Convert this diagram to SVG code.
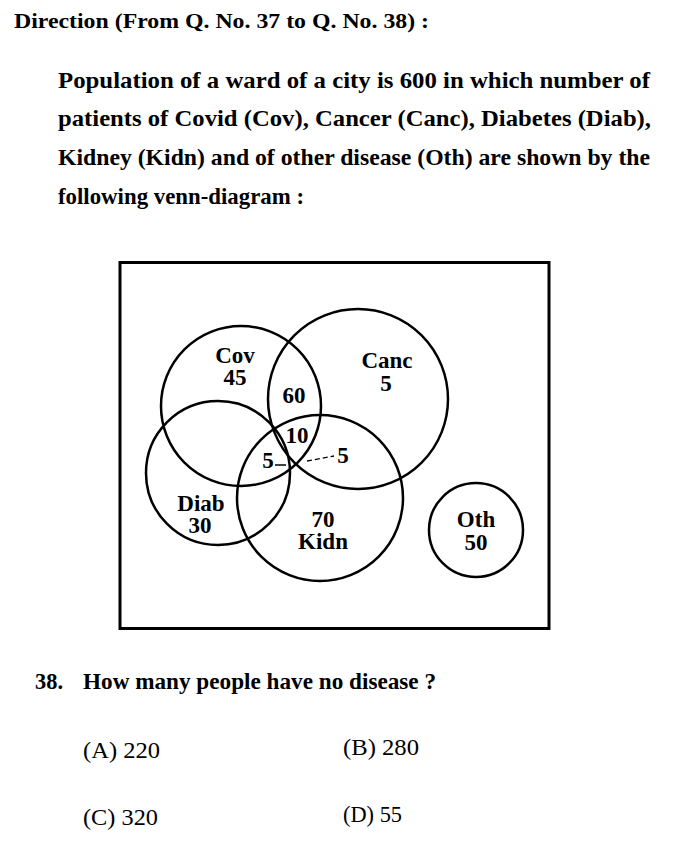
<svg xmlns="http://www.w3.org/2000/svg" width="682" height="844" viewBox="0 0 682 844">
<style>
  .t { font-family: "Liberation Serif", "Times New Roman", serif; fill: #000; }
  .b { font-weight: bold; }
  .lab { font-family: "Liberation Serif", "Times New Roman", serif; font-weight: bold; font-size: 23px; text-anchor: middle; fill: #000; }
  .c { fill: none; stroke: #000; stroke-width: 2.5; }
</style>
<rect width="682" height="844" fill="#fff"/>
<g id="header">
  <text class="t b" x="14" y="28" font-size="21" textLength="415" lengthAdjust="spacingAndGlyphs">Direction (From Q. No. 37 to Q. No. 38) :</text>
</g>
<g id="paragraph">
  <text class="t b" x="58" y="88" font-size="23" textLength="592" lengthAdjust="spacingAndGlyphs">Population of a ward of a city is 600 in which number of</text>
  <text class="t b" x="58" y="126" font-size="23" textLength="593" lengthAdjust="spacingAndGlyphs">patients of Covid (Cov), Cancer (Canc), Diabetes (Diab),</text>
  <text class="t b" x="58" y="165" font-size="23" textLength="592" lengthAdjust="spacingAndGlyphs">Kidney (Kidn) and of other disease (Oth) are shown by the</text>
  <text class="t b" x="58" y="204" font-size="23" textLength="246" lengthAdjust="spacingAndGlyphs">following venn-diagram :</text>
</g>
<g id="frame">
  <rect x="120" y="262.5" width="429" height="366" fill="none" stroke="#000" stroke-width="3"/>
</g>
<g id="cov">
  <circle class="c" cx="241" cy="406" r="80"/>
  <text class="lab" x="235" y="363">Cov</text>
  <text class="lab" x="235" y="385">45</text>
</g>
<g id="canc">
  <circle class="c" cx="358" cy="399" r="90"/>
  <text class="lab" x="387" y="368">Canc</text>
  <text class="lab" x="386" y="391">5</text>
</g>
<g id="diab">
  <circle class="c" cx="218" cy="473" r="72"/>
  <text class="lab" x="201" y="511">Diab</text>
  <text class="lab" x="200" y="533">30</text>
</g>
<g id="kidn">
  <circle class="c" cx="320" cy="498" r="83"/>
  <text class="lab" x="323" y="527">70</text>
  <text class="lab" x="323" y="549">Kidn</text>
</g>
<g id="oth">
  <circle class="c" cx="476" cy="530" r="47"/>
  <text class="lab" x="476" y="527">Oth</text>
  <text class="lab" x="476" y="550">50</text>
</g>
<g id="intersections">
  <text class="lab" x="294" y="403">60</text>
  <text class="lab" x="297" y="443">10</text>
  <text class="lab" x="268" y="468">5</text>
  <text class="lab" x="343" y="463">5</text>
</g>
<g id="connectors" stroke="#000" fill="none">
  <line x1="275" y1="465" x2="286" y2="465" stroke-width="1.5"/>
  <line x1="307" y1="461" x2="334" y2="456" stroke-width="1.3" stroke-dasharray="5 3"/>
</g>
<g id="question">
  <text class="t b" x="35" y="689" font-size="23" textLength="28" lengthAdjust="spacingAndGlyphs">38.</text>
  <text class="t b" x="83" y="689" font-size="23" textLength="353" lengthAdjust="spacingAndGlyphs">How many people have no disease ?</text>
</g>
<g id="options">
  <text class="t" x="83" y="758" font-size="24" textLength="77" lengthAdjust="spacingAndGlyphs">(A) 220</text>
  <text class="t" x="343" y="755" font-size="24" textLength="76" lengthAdjust="spacingAndGlyphs">(B) 280</text>
  <text class="t" x="83" y="825" font-size="24" textLength="75" lengthAdjust="spacingAndGlyphs">(C) 320</text>
  <text class="t" x="343" y="822" font-size="24" textLength="59" lengthAdjust="spacingAndGlyphs">(D) 55</text>
</g>
</svg>
